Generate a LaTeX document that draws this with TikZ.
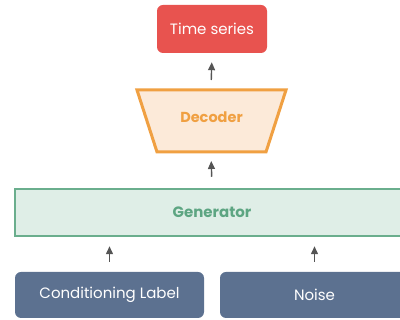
\documentclass[tikz,border=0pt]{standalone}
\usepackage{fontspec}
\setmainfont{Poppins}
\usetikzlibrary{arrows.meta}
\definecolor{tsred}{HTML}{E8534F}
\definecolor{decfill}{HTML}{FCEAD9}
\definecolor{decline}{HTML}{F0A042}
\definecolor{genfill}{HTML}{DFEEE7}
\definecolor{genline}{HTML}{6AAE8D}
\definecolor{gentext}{HTML}{5DA582}
\definecolor{inblue}{HTML}{5C7190}
\definecolor{arrgray}{HTML}{555555}
\begin{document}
\begin{tikzpicture}[x=1pt,y=-1pt,
  lbl/.style={font=\fontsize{15}{18}\selectfont},
  tsbox/.style={fill=tsred,rounded corners=6pt,text=white,lbl,minimum width=110pt,minimum height=48pt,inner sep=0pt},
  inbox/.style={fill=inblue,rounded corners=6pt,text=white,lbl,minimum height=46pt,inner sep=0pt},
  genbox/.style={fill=genfill,draw=genline,line width=2.5pt,text=gentext,font=\fontsize{15}{18}\selectfont\bfseries,minimum width=394pt,minimum height=47pt,inner sep=0pt},
  arr/.style={draw=arrgray,line width=1.4pt,-{Triangle[width=7pt,length=8pt]}}
]
\useasboundingbox (0,0) rectangle (400,320);
\clip (0,0) rectangle (400,320);
\node[tsbox] (ts) at (212,29) {Time series};
\filldraw[fill=decfill,draw=decline,line width=3pt,line join=miter]
  (137,90) -- (286,90) -- (266,152) -- (157,152) -- cycle;
\node[text=decline,font=\fontsize{14.5}{17}\selectfont\bfseries] (dec) at (211.5,117) {Decoder};
\coordinate (dectop) at (211,90);
\coordinate (decbot) at (211,152);
\node[genbox] (gen) at (212,212.5) {Generator};
\node[inbox,minimum width=189pt] (cond) at (109.5,295) {Conditioning Label};
\node[inbox,minimum width=189pt] (noise) at (314.5,295) {Noise};
\draw[arr,shorten <=10pt,shorten >=9pt] (dectop) -- (ts.south);
\draw[arr,shorten <=11pt,shorten >=9pt] (gen.north) -- (decbot);
\draw[arr,shorten <=10pt,shorten >=9pt] (cond.north) -- (cond.north |- gen.south);
\draw[arr,shorten <=10pt,shorten >=9pt] (noise.north) -- (noise.north |- gen.south);
\end{tikzpicture}
\end{document}
